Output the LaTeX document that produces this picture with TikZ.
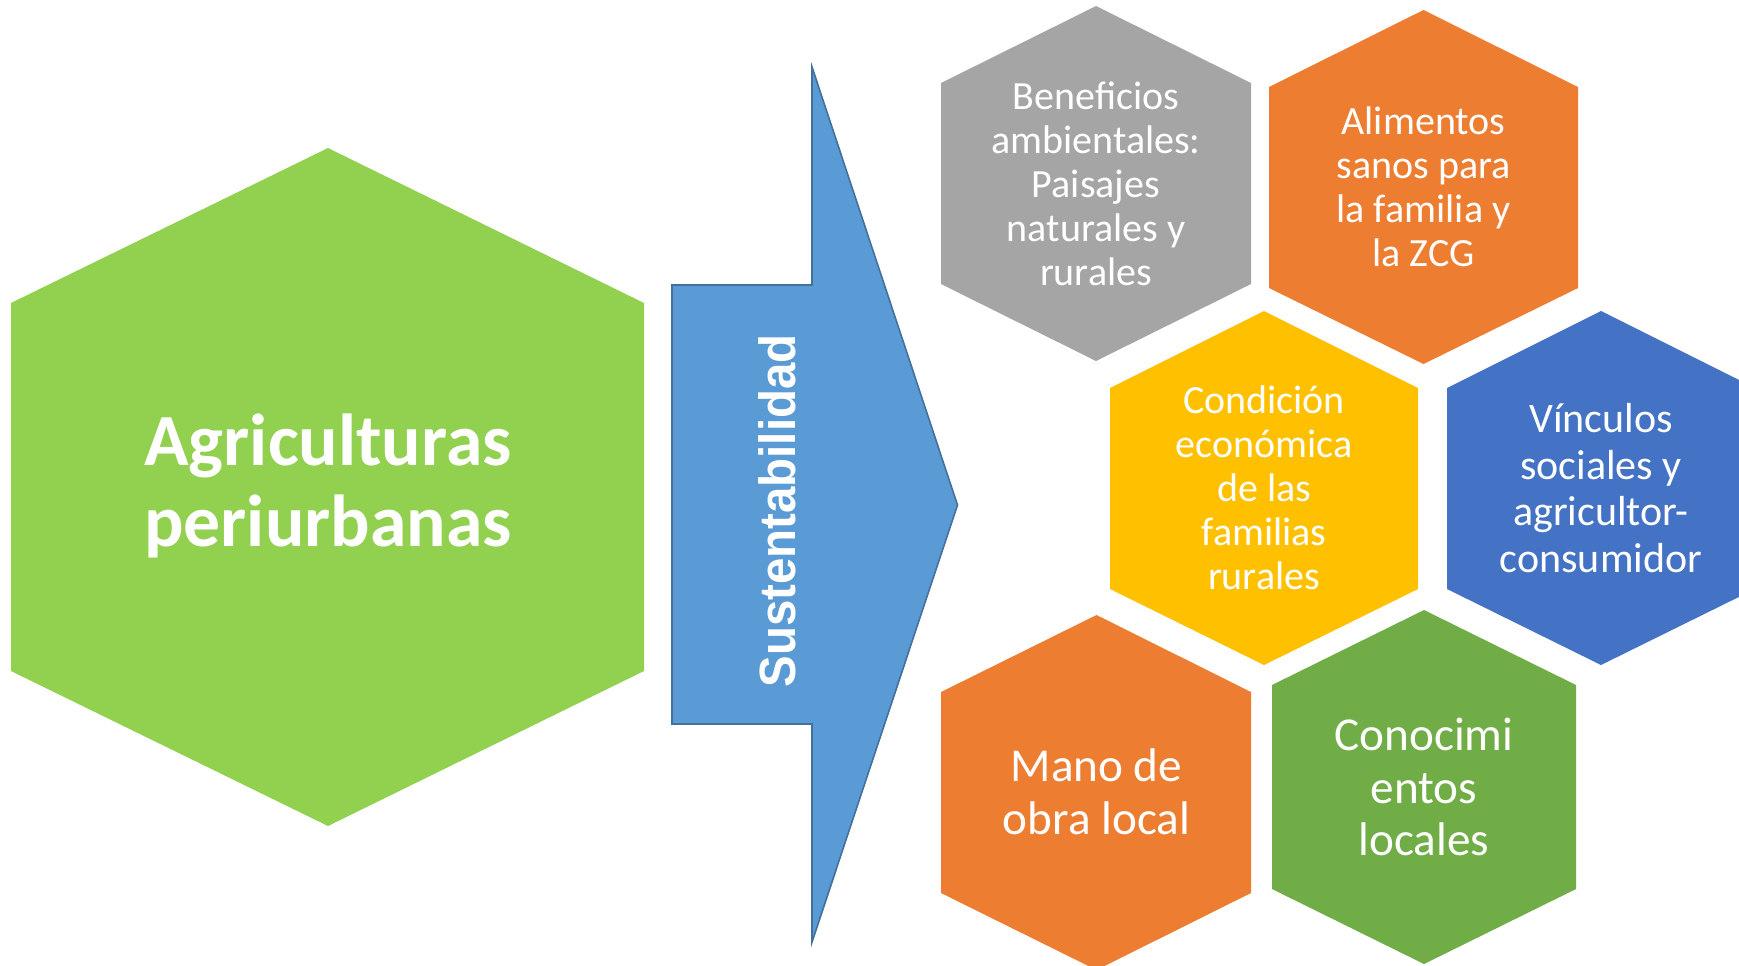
\documentclass[tikz,border=0pt]{standalone}
\usepackage{fontspec}
\setmainfont{Carlito}
\newfontfamily\arrowfont[FakeStretch=0.93]{Liberation Sans}
\definecolor{hexlime}{HTML}{92D050}
\definecolor{hexgray}{HTML}{A5A5A5}
\definecolor{hexorange}{HTML}{ED7D31}
\definecolor{hexyellow}{HTML}{FFC000}
\definecolor{hexblue}{HTML}{4472C4}
\definecolor{hexgreen}{HTML}{70AD47}
\definecolor{arrowfill}{HTML}{5B9BD5}
\definecolor{arrowline}{HTML}{41719C}

\begin{document}
\begin{tikzpicture}[x=0.5pt, y=-0.5pt,
  hextext/.style={text=white, align=center, inner sep=0pt},
  smalltext/.style={hextext, font=\fontsize{20}{22}\selectfont},
  midtext/.style={hextext, font=\fontsize{21}{23.2}\selectfont},
  bigtext/.style={hextext, font=\fontsize{23.6}{26.3}\selectfont}]
\useasboundingbox (0,0) rectangle (1739,965);
\clip (0,0) rectangle (1739,965);
\fill[white] (0,0) rectangle (1739,965);
% main hexagon
\fill[hexlime] (328,148) -- (644,303) -- (644,671) -- (328,826) -- (11,671) -- (11,303) -- cycle;
\node[hextext, font=\bfseries\fontsize{36.8}{40.2}\selectfont] (Agri) at (328,486) {Agriculturas\\periurbanas};
% arrow
\draw[fill=arrowfill, draw=arrowline, line width=0.8pt] (672,285) -- (812,285) -- (812,67) -- (957.5,505) -- (812,942) -- (812,724) -- (672,724) -- cycle;
\node[rotate=90, anchor=base, text=white, font=\arrowfont\bfseries\fontsize{25.5}{28}\selectfont] (Sust) at (795,511) {Sustentabilidad};
% small hexagons
\fill[hexgray] (1096,6) -- (1251,83) -- (1251,284) -- (1096,361) -- (941,284) -- (941,83) -- cycle;
\node[smalltext] (Benef) at (1096,184) {Beneficios\\ambientales:\\Paisajes\\naturales y\\rurales};
\fill[hexorange] (1423.5,10) -- (1578,87) -- (1578,288) -- (1423.5,364) -- (1269,288) -- (1269,87) -- cycle;
\node[smalltext] (Alim) at (1423.5,187) {Alimentos\\sanos para\\la familia y\\la ZCG};
\fill[hexyellow] (1264,311) -- (1418,388) -- (1418,589) -- (1264,665) -- (1110,589) -- (1110,388) -- cycle;
\node[smalltext] (Cond) at (1264,488) {Condición\\económica\\de las\\familias\\rurales};
\fill[hexblue] (1601,311) -- (1755,388) -- (1755,589) -- (1601,665) -- (1447,589) -- (1447,388) -- cycle;
\node[midtext] (Vinc) at (1601,488) {Vínculos\\sociales y\\agricultor-\\consumidor};
\fill[hexorange] (1096.5,615) -- (1251,692) -- (1251,893) -- (1096.5,970) -- (941,893) -- (941,692) -- cycle;
\node[bigtext] (Mano) at (1096.5,792) {Mano de\\obra local};
\fill[hexgreen] (1424,610) -- (1576,685) -- (1576,889) -- (1424,964) -- (1272,889) -- (1272,685) -- cycle;
\node[bigtext] (Conoc) at (1424,787) {Conocimi\\entos\\locales};
\end{tikzpicture}
\end{document}
